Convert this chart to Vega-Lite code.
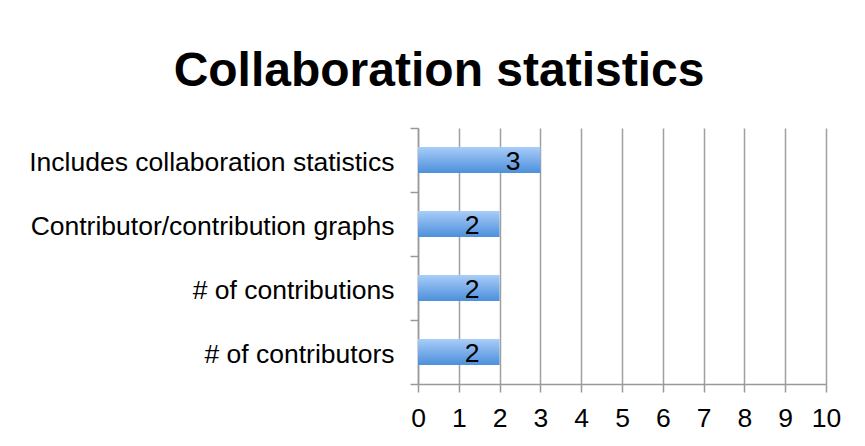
{
  "$schema": "https://vega.github.io/schema/vega-lite/v6.json",
  "width": 408,
  "height": 256,
  "autosize": {"type": "none"},
  "padding": {"left": 418, "top": 128, "right": 39, "bottom": 62},
  "background": "white",
  "config": {
    "view": {"stroke": null},
    "font": "Liberation Sans"
  },
  "title": {
    "text": "Collaboration statistics",
    "font": "Liberation Sans",
    "fontSize": 48,
    "fontWeight": "bold",
    "color": "black",
    "anchor": "middle",
    "dx": -183,
    "offset": 19
  },
  "data": {
    "values": [
      {"category": "Includes collaboration statistics", "count": 3},
      {"category": "Contributor/contribution graphs", "count": 2},
      {"category": "# of contributions", "count": 2},
      {"category": "# of contributors", "count": 2}
    ]
  },
  "encoding": {
    "y": {
      "field": "category",
      "type": "nominal",
      "sort": null,
      "scale": {"paddingInner": 0, "paddingOuter": 0},
      "axis": {
        "title": null,
        "domainColor": "#999999",
        "domainWidth": 1.5,
        "tickColor": "#999999",
        "tickWidth": 1.5,
        "tickSize": 8,
        "tickBand": "extent",
        "labelFontSize": 26.5,
        "labelColor": "black",
        "labelPadding": 16,
        "labelOffset": 2,
        "labelFont": "Liberation Sans",
        "labelLimit": 500
      }
    },
    "x": {
      "field": "count",
      "type": "quantitative",
      "scale": {"domain": [0, 10], "nice": false},
      "axis": {
        "title": null,
        "values": [0, 1, 2, 3, 4, 5, 6, 7, 8, 9, 10],
        "grid": true,
        "gridColor": "#a0a0a0",
        "gridWidth": 1.5,
        "domainColor": "#999999",
        "domainWidth": 1.5,
        "tickColor": "#999999",
        "tickWidth": 1.5,
        "tickSize": 8,
        "labelFontSize": 26.5,
        "labelColor": "black",
        "labelPadding": 13,
        "labelFont": "Liberation Sans",
        "labelFlush": false
      }
    }
  },
  "layer": [
    {
      "mark": {
        "type": "bar",
        "height": {"band": 0.41},
        "fill": {
          "x1": 0, "y1": 0, "x2": 0, "y2": 1,
          "gradient": "linear",
          "stops": [
            {"offset": 0, "color": "#a9cdf8"},
            {"offset": 1, "color": "#4b8fdb"}
          ]
        }
      }
    },
    {
      "mark": {
        "type": "text",
        "align": "right",
        "dx": -20,
        "dy": 2,
        "fontSize": 26.5,
        "color": "black",
        "font": "Liberation Sans"
      },
      "encoding": {
        "text": {"field": "count", "type": "quantitative"}
      }
    }
  ]
}
